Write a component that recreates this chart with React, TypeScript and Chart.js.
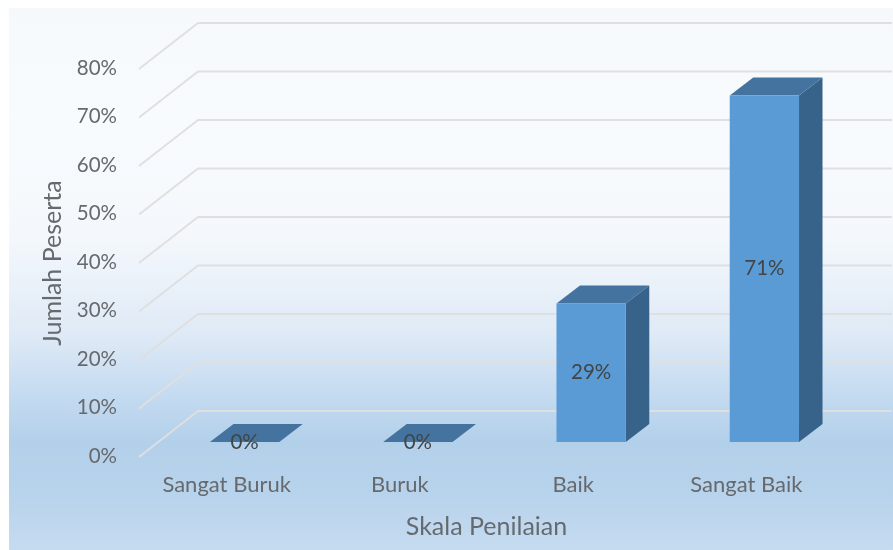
import React, { useEffect, useRef } from "react";
import { Chart, registerables } from "chart.js";

Chart.register(...registerables);

const categories = ["Sangat Buruk", "Buruk", "Baik", "Sangat Baik"];
const values = [0, 0, 28.57, 71.43];
const yMax = 80;
const yStep = 10;
const xTitle = "Skala Penilaian";
const yTitle = "Jumlah Peserta";

const FONT = "Lato, 'Open Sans', sans-serif";
const BAR_FRONT = "#5b9bd5";
const BAR_TOP = "#43739e";
const BAR_SIDE = "#37628a";
const AXIS_TEXT = "#666a6e";
const LABEL_TEXT = "#404548";
const GRID = "#dfdfdf";

// Depth of the wall and of the bars, in canvas pixels
const WALL_DX = 59;
const WALL_DY = 46;
const WALL_RIGHT = 892;
const BAR_SHIFT_X = 18;
const BAR_SHIFT_Y = 15;
const BAR_DX = 23.5;
const BAR_DY = 18;

const scene3d = {
  id: "scene3d",
  beforeDraw(chart: any) {
    const { ctx, width, height } = chart;
    ctx.save();
    ctx.fillStyle = "#ffffff";
    ctx.fillRect(0, 0, width, height);
    const g = ctx.createLinearGradient(0, 8, 0, height);
    g.addColorStop(0, "#f5f9fc");
    g.addColorStop(0.2, "#f8fbfe");
    g.addColorStop(0.42, "#f4f8fc");
    g.addColorStop(0.6, "#dfeaf6");
    g.addColorStop(0.72, "#c3daf0");
    g.addColorStop(0.8, "#b3d0ea");
    g.addColorStop(0.9, "#b8d3ec");
    g.addColorStop(1, "#c5dbf0");
    ctx.fillStyle = g;
    ctx.fillRect(9, 8, width - 9, height - 8);

    const y = chart.scales.y;
    const left = chart.chartArea.left;
    ctx.strokeStyle = GRID;
    ctx.lineWidth = 1.8;
    ctx.lineJoin = "round";
    y.ticks.forEach((t: any) => {
      const py = y.getPixelForValue(t.value);
      ctx.beginPath();
      ctx.moveTo(left - 1, py);
      ctx.lineTo(left - 1 + WALL_DX, py - WALL_DY);
      ctx.lineTo(WALL_RIGHT, py - WALL_DY);
      ctx.stroke();
    });
    ctx.restore();
  },
  beforeDatasetDraw(chart: any, args: any) {
    const { ctx } = chart;
    ctx.save();
    ctx.translate(BAR_SHIFT_X, BAR_SHIFT_Y * -1);
    args.meta.data.forEach((bar: any) => {
      const { x, y, base, width } = bar.getProps(["x", "y", "base", "width"]);
      const l = x - width / 2;
      const r = x + width / 2;
      ctx.fillStyle = BAR_SIDE;
      ctx.beginPath();
      ctx.moveTo(r, y);
      ctx.lineTo(r + BAR_DX, y - BAR_DY);
      ctx.lineTo(r + BAR_DX, base - BAR_DY);
      ctx.lineTo(r, base);
      ctx.closePath();
      ctx.fill();
      ctx.fillStyle = BAR_TOP;
      ctx.beginPath();
      ctx.moveTo(l, y);
      ctx.lineTo(l + BAR_DX, y - BAR_DY);
      ctx.lineTo(r + BAR_DX, y - BAR_DY);
      ctx.lineTo(r, y);
      ctx.closePath();
      ctx.fill();
    });
  },
  afterDatasetDraw(chart: any) {
    chart.ctx.restore();
  },
  afterDatasetsDraw(chart: any) {
    const { ctx } = chart;
    const meta = chart.getDatasetMeta(0);
    ctx.save();
    ctx.font = `20.5px ${FONT}`;
    ctx.fillStyle = LABEL_TEXT;
    ctx.textAlign = "center";
    ctx.textBaseline = "middle";
    meta.data.forEach((bar: any, i: number) => {
      const { x, y, base } = bar.getProps(["x", "y", "base"]);
      ctx.fillText(`${Math.round(values[i])}%`, x + BAR_SHIFT_X, (y + base) / 2 - BAR_SHIFT_Y);
    });
    ctx.restore();
  },
};

export default function App() {
  const ref = useRef<HTMLCanvasElement>(null);
  useEffect(() => {
    const chart = new Chart(ref.current!, {
      type: "bar",
      data: {
        labels: categories,
        datasets: [
          {
            data: values,
            backgroundColor: BAR_FRONT,
            categoryPercentage: 1,
            barPercentage: 0.4,
            clip: false as any,
          },
        ],
      },
      plugins: [scene3d],
      options: {
        animation: false,
        responsive: false,
        devicePixelRatio: 1,
        layout: { padding: { top: 69, right: 60, bottom: 0, left: 0 } },
        plugins: { legend: { display: false }, tooltip: { enabled: false } },
        scales: {
          x: {
            grid: { display: false },
            border: { display: false },
            afterFit: (s: any) => {
              s.height = 93;
            },
            ticks: {
              color: AXIS_TEXT,
              font: { family: FONT, size: 22 },
              padding: 7,
              maxRotation: 0,
              autoSkip: false,
            },
            title: {
              display: true,
              text: xTitle,
              color: AXIS_TEXT,
              font: { family: FONT, size: 25 },
              padding: { top: 0, bottom: 8 },
            },
          },
          y: {
            min: 0,
            max: yMax,
            grid: { display: false },
            border: { display: false },
            afterFit: (s: any) => {
              s.width = 140;
            },
            ticks: {
              stepSize: yStep,
              color: AXIS_TEXT,
              font: { family: FONT, size: 20.5 },
              padding: 15,
              labelOffset: -1,
              callback: (v: any) => `${v}%`,
            },
            title: {
              display: true,
              text: yTitle,
              color: AXIS_TEXT,
              font: { family: FONT, size: 25 },
              padding: { top: 38, bottom: 0 },
            },
          },
        },
      },
    });
    return () => chart.destroy();
  }, []);
  return (
    <canvas
      ref={ref}
      width={893}
      height={550}
      style={{ position: "absolute", left: 0, top: 0, display: "block", filter: "blur(0.5px)" }}
    />
  );
}
